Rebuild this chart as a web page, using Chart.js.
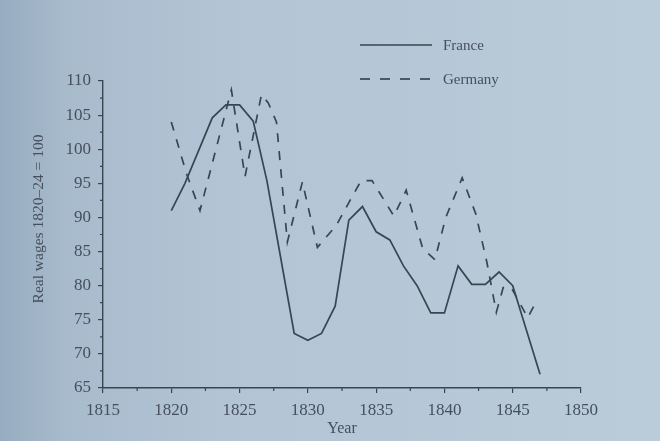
<!DOCTYPE html>
<html>
<head>
<meta charset="utf-8">
<script src="https://cdn.jsdelivr.net/npm/chart.js@4"></script>
<style>
  html, body { margin: 0; padding: 0; }
  body {
    width: 660px;
    height: 441px;
    overflow: hidden;
    background: linear-gradient(90deg, #97acc0 0%, #a8bbcd 10%, #b3c5d5 35%, #bacbd9 100%);
  }
  #chart { display: block; }
</style>
</head>
<body>
<canvas id="chart" width="660" height="441"></canvas>
<script>
// real wages, 1820-24 = 100
const franceYears = [1820, 1821, 1822, 1823, 1824, 1825, 1826, 1827, 1828, 1829, 1830, 1831, 1832, 1833,
  1834, 1835, 1836, 1837, 1838, 1839, 1840, 1841, 1842, 1843, 1844, 1845, 1846, 1847];
const franceWages = [91, 95, 99.8, 104.6, 106.5, 106.5, 104.1, 95.4, 84.2, 73, 72, 73, 77, 89.6,
  91.6, 87.9, 86.7, 82.9, 80, 76, 76, 82.9, 80.2, 80.2, 82, 80, 73.5, 67];

// the German curve does not sit on whole years in the print
const germanyYears = [1820, 1821.1, 1822.1, 1824.4, 1825.4, 1826.6, 1827.1, 1827.7, 1828.5, 1829.6,
  1830.7, 1832.1, 1833.2, 1833.9, 1834.7, 1836.3, 1837.2, 1838.4, 1839.3, 1840.1, 1841.3, 1842.3,
  1843.1, 1843.8, 1844.3, 1844.9, 1846.1, 1846.8];
const germanyWages = [104, 96.5, 91, 108.7, 96, 108, 106.8, 104, 86.4, 95.2,
  85.6, 88.9, 92.9, 95.4, 95.4, 90.2, 94, 85.5, 83.8, 90, 95.8, 90.5,
  83.5, 76.1, 79.7, 79.7, 75.3, 78];

const INK = "#3a4552";
const TEXT = "#46505d";
const SERIF = "'Liberation Serif', 'DejaVu Serif', serif";

const toPoints = (xs, ys) => xs.map((x, i) => ({ x, y: ys[i] }));

// small ticks half way between the labelled ones
const minorTicks = {
  id: "minorTicks",
  afterDraw(chart) {
    const { ctx, scales: { x, y } } = chart;
    ctx.save();
    ctx.strokeStyle = INK;
    ctx.lineWidth = 1.2;
    ctx.beginPath();
    for (let v = x.min + 2.5; v < x.max; v += 5) {
      const px = x.getPixelForValue(v);
      ctx.moveTo(px, x.top);
      ctx.lineTo(px, x.top + 3);
    }
    for (let v = y.min + 2.5; v < y.max; v += 5) {
      const py = y.getPixelForValue(v);
      ctx.moveTo(y.right, py);
      ctx.lineTo(y.right - 3, py);
    }
    ctx.stroke();
    ctx.restore();
  },
};

// key in the top right, one row per dataset
const bookLegend = {
  id: "bookLegend",
  afterDraw(chart) {
    const { ctx } = chart;
    chart.data.datasets.forEach((ds, i) => {
      const yy = 45 + i * 34;
      ctx.save();
      ctx.strokeStyle = ds.borderColor;
      ctx.lineWidth = ds.borderWidth;
      ctx.setLineDash(ds.borderDash ? [10, 10] : []);
      ctx.beginPath();
      ctx.moveTo(360, yy);
      ctx.lineTo(432, yy);
      ctx.stroke();
      ctx.setLineDash([]);
      ctx.fillStyle = TEXT;
      ctx.font = "15px " + SERIF;
      ctx.textBaseline = "middle";
      ctx.fillText(ds.label, 443, yy + 1);
      ctx.restore();
    });
  },
};

new Chart(document.getElementById("chart"), {
  type: "line",
  data: {
    datasets: [
      {
        label: "France",
        data: toPoints(franceYears, franceWages),
        borderColor: INK,
        borderWidth: 1.7,
        pointRadius: 0,
        tension: 0,
      },
      {
        label: "Germany",
        data: toPoints(germanyYears, germanyWages),
        borderColor: INK,
        borderWidth: 1.7,
        borderDash: [9, 9],
        pointRadius: 0,
        tension: 0,
      },
    ],
  },
  options: {
    responsive: false,
    animation: false,
    layout: { padding: { left: 30, right: 79, top: 81, bottom: 3 } },
    plugins: {
      legend: { display: false },
      tooltip: { enabled: false },
    },
    scales: {
      x: {
        type: "linear",
        min: 1815,
        max: 1850,
        border: { color: INK, width: 1.4 },
        grid: { drawOnChartArea: false, color: INK, tickLength: 5, lineWidth: 1.2 },
        ticks: {
          stepSize: 5,
          padding: 7,
          maxRotation: 0,
          color: TEXT,
          font: { family: SERIF, size: 17 },
          callback: (v) => String(v),
        },
        title: {
          display: true,
          text: "Year",
          color: TEXT,
          font: { family: SERIF, size: 16 },
          padding: { top: 0, bottom: 0 },
        },
        afterFit: (s) => {
          s.height = 50;
        },
      },
      y: {
        min: 65,
        max: 110,
        border: { color: INK, width: 1.4 },
        grid: { drawOnChartArea: false, color: INK, tickLength: 5, lineWidth: 1.2 },
        ticks: {
          stepSize: 5,
          padding: 7,
          color: TEXT,
          font: { family: SERIF, size: 17 },
        },
        title: {
          display: true,
          // leading spaces push the printed label a little above the axis middle, as in the book
          text: "        Real wages 1820–24 = 100",
          color: TEXT,
          font: { family: SERIF, size: 15.5 },
          padding: { top: 0, bottom: 15 },
        },
        afterFit: (s) => {
          s.width = 73;
        },
      },
    },
  },
  plugins: [minorTicks, bookLegend],
});
</script>
</body>
</html>
